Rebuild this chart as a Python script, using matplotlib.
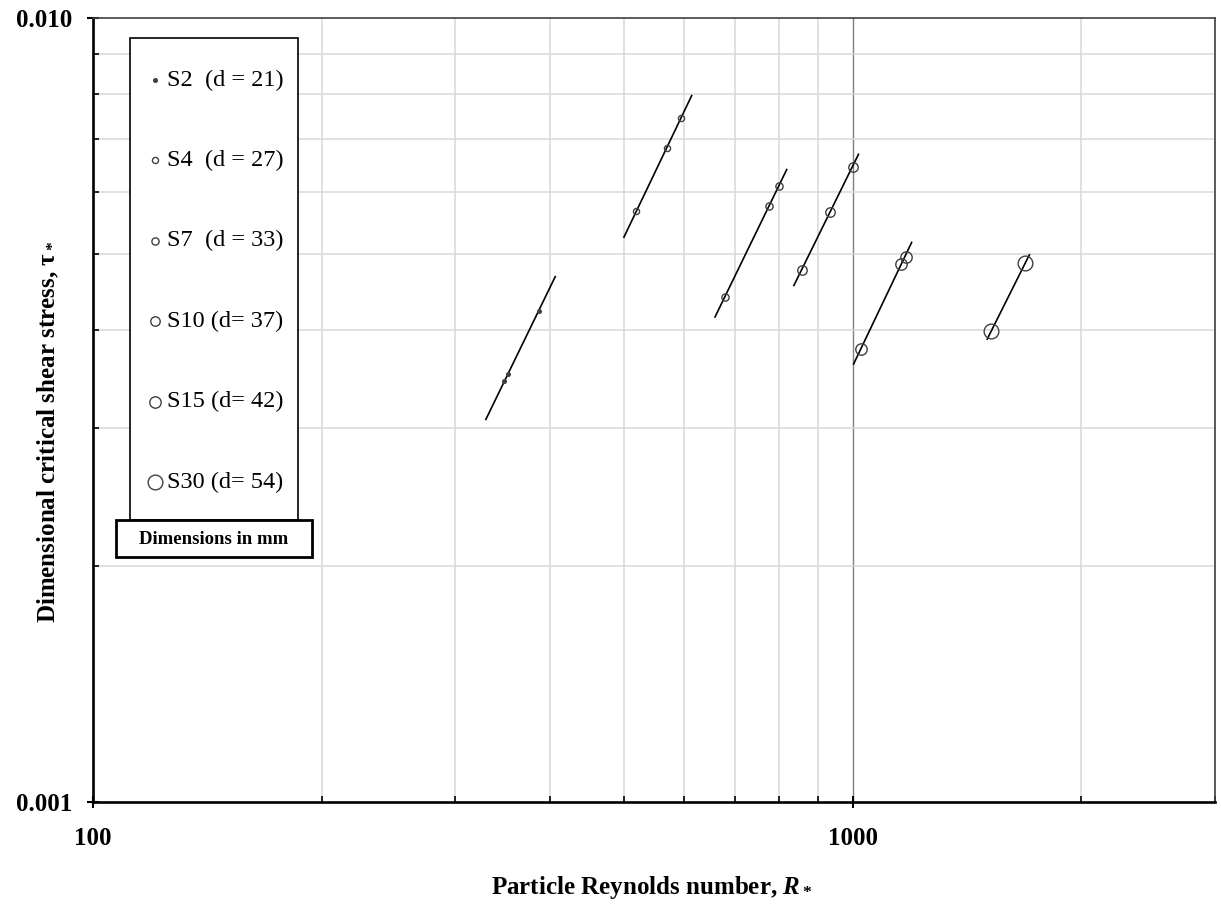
import numpy as np
import matplotlib
matplotlib.use('Agg')
import matplotlib.pyplot as plt
from matplotlib.patches import Rectangle
from matplotlib.lines import Line2D
from matplotlib.ticker import NullFormatter

# series names / legend labels
series = ['S2', 'S4', 'S7', 'S10', 'S15', 'S30']
labels = ['S2  (d = 21)', 'S4  (d = 27)', 'S7  (d = 33)',
          'S10 (d= 37)', 'S15 (d= 42)', 'S30 (d= 54)']
# particle Reynolds number R*
rstar = [[348, 352, 386],
         [519, 570, 594],
         [679, 776, 800],
         [857, 933, 1000],
         [1025, 1157, 1174],
         [1523, 1688]]
# critical shear stress tau*
tau = [[0.00344, 0.00352, 0.00423],
       [0.00567, 0.00683, 0.00746],
       [0.00441, 0.00576, 0.00611],
       [0.00477, 0.00566, 0.00646],
       [0.00378, 0.00486, 0.00496],
       [0.00399, 0.00487]]
# range of the power trend lines
fit_from = [329, 500, 659, 837, 1003, 1504]
fit_to = [406, 614, 819, 1018, 1196, 1709]
# marker size grows with grain size
msize = [2.6, 4.4, 5.2, 6.8, 8.2, 10.6]
mface = ['#404040', 'none', 'none', 'none', 'none', 'none']

W, H = 1221, 905


def fx(px):
    return px / W


def fy(py):
    return 1 - py / H


plt.rcParams['font.family'] = ['Liberation Serif', 'DejaVu Serif']
plt.rcParams['mathtext.fontset'] = 'custom'
plt.rcParams['mathtext.rm'] = 'Liberation Serif:bold'
plt.rcParams['mathtext.it'] = 'Liberation Serif:italic:bold'
plt.rcParams['mathtext.bf'] = 'Liberation Serif:bold'

fig = plt.figure(figsize=(W / 100, H / 100), dpi=100)
ax = fig.add_axes([fx(93), fy(802), (1215 - 93) / W, (802 - 18) / H])
ax.set_xscale('log')
ax.set_yscale('log')
ax.set_xlim(100, 3000)
ax.set_ylim(0.001, 0.01)

for i in range(len(series)):
    x = np.array(rstar[i], dtype=float)
    y = np.array(tau[i])
    k, c = np.polyfit(np.log10(x), np.log10(y), 1)
    xx = np.array([fit_from[i], fit_to[i]], dtype=float)
    ax.plot(xx, 10 ** c * xx ** k, color='black', lw=1.2, zorder=3)
    ax.plot(x, y, ls='none', marker='o', ms=msize[i], mfc=mface[i],
            mec='#404040', mew=1.0, zorder=4)

# ticks
ax.set_xticks([100, 1000], labels=['100', '1000'])
ax.set_xticks([200, 300, 400, 500, 600, 700, 800, 900, 2000, 3000], minor=True)
ax.set_yticks([0.001, 0.01], labels=['0.001', '0.010'])
ax.set_yticks([0.002, 0.003, 0.004, 0.005, 0.006, 0.007, 0.008, 0.009], minor=True)
ax.xaxis.set_minor_formatter(NullFormatter())
ax.yaxis.set_minor_formatter(NullFormatter())
ax.tick_params(which='major', direction='inout', length=9, width=1.5, labelsize=18)
ax.tick_params(axis='x', which='major', pad=13.5)
ax.tick_params(axis='y', which='major', pad=10.5)
ax.tick_params(which='minor', direction='in', length=4, width=1.2)
for t in ax.get_xticklabels() + ax.get_yticklabels():
    t.set_fontweight('bold')

# grid
ax.set_axisbelow(True)
ax.grid(which='minor', color='#d9d9d9', lw=1.1)
ax.grid(which='major', axis='x', color='#7f7f7f', lw=1.0)

for s in ['left', 'bottom']:
    ax.spines[s].set_linewidth(1.9)
    ax.spines[s].set_color('black')
for s in ['top', 'right']:
    ax.spines[s].set_linewidth(1.2)
    ax.spines[s].set_color('#404040')

fig.text(fx(652), fy(894), 'Particle Reynolds number, $R_*$', ha='center', va='baseline',
         fontsize=18, fontweight='bold')
fig.text(fx(48), fy(432), r'Dimensional critical shear stress, $\mathrm{\tau}_*$', ha='center',
         va='center', rotation=90, fontsize=18, fontweight='bold')

# legend box
fig.add_artist(Rectangle((fx(130), fy(520)), (298 - 130) / W, (520 - 38) / H,
                         transform=fig.transFigure, fc='white', ec='black', lw=1.2))
for i in range(len(series)):
    yy = 80 + i * 80.4
    fig.add_artist(Line2D([fx(155)], [fy(yy)], transform=fig.transFigure, ls='none',
                          marker='o', ms=msize[i], mfc=mface[i], mec='#404040', mew=1.0))
    fig.text(fx(167), fy(yy), labels[i], ha='left', va='center', fontsize=17.5)

fig.add_artist(Rectangle((fx(116), fy(557)), (312 - 116) / W, (557 - 520) / H,
                         transform=fig.transFigure, fc='white', ec='black', lw=2.0))
fig.text(fx(214), fy(539), 'Dimensions in mm', ha='center', va='center',
         fontsize=13.5, fontweight='bold')

fig.savefig('out.png', dpi=100)
